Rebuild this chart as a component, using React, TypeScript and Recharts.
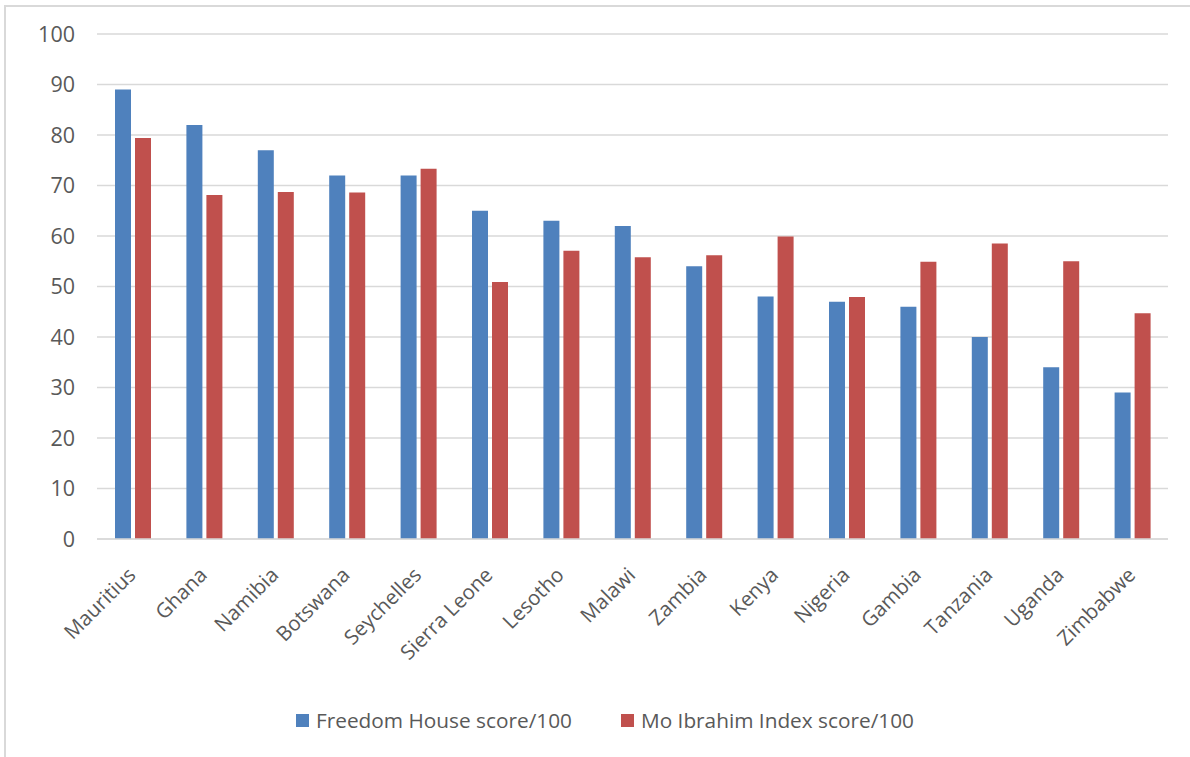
import React from "react";
import {
  BarChart,
  Bar,
  XAxis,
  YAxis,
  CartesianGrid,
  Legend,
} from "recharts";

// 国名とスコア
const countries = [
  "Mauritius",
  "Ghana",
  "Namibia",
  "Botswana",
  "Seychelles",
  "Sierra Leone",
  "Lesotho",
  "Malawi",
  "Zambia",
  "Kenya",
  "Nigeria",
  "Gambia",
  "Tanzania",
  "Uganda",
  "Zimbabwe",
];
const freedomHouse = [89, 82, 77, 72, 72, 65, 63, 62, 54, 48, 47, 46, 40, 34, 29];
const moIbrahim = [79.4, 68.1, 68.7, 68.6, 73.3, 50.9, 57.1, 55.8, 56.2, 59.9, 47.9, 54.9, 58.5, 55.0, 44.7];
const yTicks = [0, 10, 20, 30, 40, 50, 60, 70, 80, 90, 100];

const FONT = "'Open Sans', sans-serif";
const TEXT = "#595959";

const data = countries.map((name, i) => ({
  name,
  fh: freedomHouse[i],
  mo: moIbrahim[i],
}));

const CountryTick = (props: any) => {
  const { x, y, payload } = props;
  return (
    <g transform={`translate(${x},${y + 25})`}>
      <text
        textAnchor="end"
        transform="rotate(-45)"
        fill={TEXT}
        fontSize={20.5}
        fontFamily={FONT}
        dy={6}
      >
        {payload.value}
      </text>
    </g>
  );
};

// 凡例（項目間の余白を広めに）
const LegendContent = (props: any) => {
  const { payload } = props;
  return (
    <div
      style={{
        display: "flex",
        justifyContent: "center",
        gap: 49,
        paddingLeft: 42,
      }}
    >
      {payload.map((entry: any) => (
        <div
          key={entry.value}
          style={{ display: "flex", alignItems: "center", gap: 7 }}
        >
          <span
            style={{
              display: "inline-block",
              width: 13,
              height: 13,
              background: entry.color,
            }}
          />
          <span style={{ color: TEXT, fontSize: 20.8, fontFamily: FONT }}>
            {entry.value}
          </span>
        </div>
      ))}
    </div>
  );
};

export default function App() {
  return (
    <div
      style={{
        position: "absolute",
        left: 0,
        top: 0,
        width: 1190,
        height: 757,
        background: "#fff",
        overflow: "hidden",
      }}
    >
      {/* 外枠 */}
      <div
        style={{
          position: "absolute",
          left: 4,
          top: 5,
          width: 1200,
          height: 800,
          borderLeft: "2px solid #d9d9d9",
          borderTop: "2px solid #d9d9d9",
        }}
      />
      <BarChart
        width={1190}
        height={757}
        data={data}
        margin={{ top: 34, right: 22, left: 0, bottom: 23 }}
        barSize={16}
        barGap={4}
        style={{ position: "absolute", left: 0, top: 0 }}
      >
        <CartesianGrid vertical={false} stroke="#d9d9d9" strokeWidth={1.5} />
        <XAxis
          dataKey="name"
          interval={0}
          tick={<CountryTick />}
          tickLine={false}
          axisLine={{ stroke: "#d9d9d9", strokeWidth: 1.5 }}
          height={167}
        />
        <YAxis
          domain={[0, 100]}
          ticks={yTicks}
          width={97}
          axisLine={false}
          tickLine={false}
          tickMargin={16}
          tick={{ fill: TEXT, fontSize: 21.5, fontFamily: FONT }}
        />
        <Legend
          verticalAlign="bottom"
          align="center"
          height={28}
          content={<LegendContent />}
        />
        <Bar
          dataKey="fh"
          name="Freedom House score/100"
          fill="#4F81BD"
          isAnimationActive={false}
        />
        <Bar
          dataKey="mo"
          name="Mo Ibrahim Index score/100"
          fill="#C0504D"
          isAnimationActive={false}
        />
      </BarChart>
    </div>
  );
}
